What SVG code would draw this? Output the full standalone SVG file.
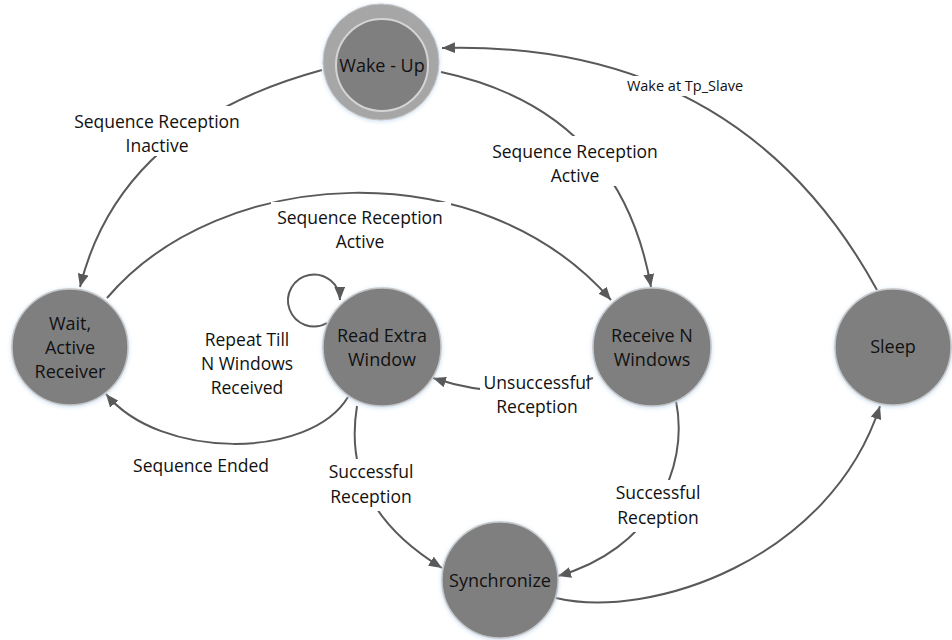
<svg xmlns="http://www.w3.org/2000/svg" width="952" height="640" viewBox="0 0 952 640">
<defs>
<style>
.node{fill:#7f7f7f;stroke:#c4c4c4;stroke-width:1.5;filter:url(#glow)}
.ring{fill:#a6a6a6;stroke:#c4c4c4;stroke-width:1;filter:url(#glow)}
.inner{fill:#7f7f7f;stroke:#d4d4d4;stroke-width:2}
.nt{font-family:"Open Sans","Liberation Sans",sans-serif;font-size:18px;fill:#111;text-anchor:middle}
.lt{font-family:"Open Sans","Liberation Sans",sans-serif;font-size:17.5px;fill:#111;text-anchor:middle}
.st{font-family:"Open Sans","Liberation Sans",sans-serif;font-size:14.5px;fill:#111;text-anchor:middle}
.bg{fill:#fff}
.edge{fill:none;stroke:#595959;stroke-width:2;marker-end:url(#arr)}
</style>
<marker id="arr" viewBox="0 0 12 10" refX="12" refY="5" markerWidth="13" markerHeight="11" markerUnits="userSpaceOnUse" orient="auto">
<path d="M0,0 L12,5 L0,10 Z" fill="#595959"/>
</marker>
<filter id="glow" x="-20%" y="-20%" width="140%" height="140%">
<feGaussianBlur in="SourceAlpha" stdDeviation="2" result="b"/>
<feFlood flood-color="#bcd3ea" flood-opacity="0.8"/>
<feComposite in2="b" operator="in" result="g"/>
<feOffset dx="0" dy="1" result="go"/>
<feMerge><feMergeNode in="go"/><feMergeNode in="SourceGraphic"/></feMerge>
</filter>
</defs>
<rect width="952" height="640" fill="#fff"/>
<g id="connectors">
<path class="edge" d="M322,70 Q120,125 80,287"/>
<path class="edge" d="M441,72 Q620,110 651,287"/>
<path class="edge" d="M107,298 C220,165 480,150 611,300"/>
<path class="edge" d="M327,323 A26 26 0 1 1 340,300"/>
<path class="edge" d="M348,397 C310,460 160,460 106,394"/>
<path class="edge" d="M593,378 Q515,405 433,378"/>
<path class="edge" d="M357,406 C345,480 380,530 442,568"/>
<path class="edge" d="M676,401 C690,470 650,550 558,576"/>
<path class="edge" d="M556,598 C650,620 830,560 880,406"/>
<path class="edge" d="M877,290 Q740,40 442,48"/>
</g>
<g id="labels">
<g id="l1"><rect class="bg" x="68" y="106" width="180" height="50"/><text class="lt" x="157" y="128">Sequence Reception</text><text class="lt" x="157" y="152">Inactive</text></g>
<g id="l2"><rect class="bg" x="486" y="136" width="180" height="50"/><text class="lt" x="575" y="158">Sequence Reception</text><text class="lt" x="575" y="182">Active</text></g>
<g id="l3"><rect class="bg" x="271" y="202" width="180" height="50"/><text class="lt" x="360" y="224">Sequence Reception</text><text class="lt" x="360" y="248">Active</text></g>
<g id="l4"><text class="lt" x="247" y="346">Repeat Till</text><text class="lt" x="247" y="370">N Windows</text><text class="lt" x="247" y="394">Received</text></g>
<g id="l5"><rect class="bg" x="126" y="453" width="150" height="24"/><text class="lt" x="201" y="472">Sequence Ended</text></g>
<g id="l6"><rect class="bg" x="480" y="370" width="106" height="48"/><text class="lt" x="537" y="389">Unsuccessful</text><text class="lt" x="537" y="413">Reception</text></g>
<g id="l7"><rect class="bg" x="322" y="459" width="98" height="52"/><text class="lt" x="371" y="478">Successful</text><text class="lt" x="371" y="503">Reception</text></g>
<g id="l8"><rect class="bg" x="609" y="480" width="98" height="52"/><text class="lt" x="658" y="499">Successful</text><text class="lt" x="658" y="524">Reception</text></g>
<g id="l9"><rect class="bg" x="620" y="76" width="130" height="20"/><text class="st" x="685" y="91">Wake at Tp_Slave</text></g>
</g>
<g id="wakeup"><circle class="ring" cx="381" cy="62" r="58"/><circle class="inner" cx="382" cy="65" r="46"/><text class="nt" x="382" y="72">Wake - Up</text></g>
<g id="wait"><circle class="node" cx="70" cy="347" r="58"/><text class="nt" x="70" y="330">Wait,</text><text class="nt" x="70" y="354">Active</text><text class="nt" x="70" y="378">Receiver</text></g>
<g id="readextra"><circle class="node" cx="382" cy="347" r="59"/><text class="nt" x="382" y="342">Read Extra</text><text class="nt" x="382" y="366">Window</text></g>
<g id="receiven"><circle class="node" cx="652" cy="347" r="59"/><text class="nt" x="652" y="342">Receive N</text><text class="nt" x="652" y="366">Windows</text></g>
<g id="synchronize"><circle class="node" cx="500" cy="580" r="58"/><text class="nt" x="500" y="587">Synchronize</text></g>
<g id="sleep"><circle class="node" cx="893" cy="347" r="58"/><text class="nt" x="893" y="353">Sleep</text></g>
</svg>
